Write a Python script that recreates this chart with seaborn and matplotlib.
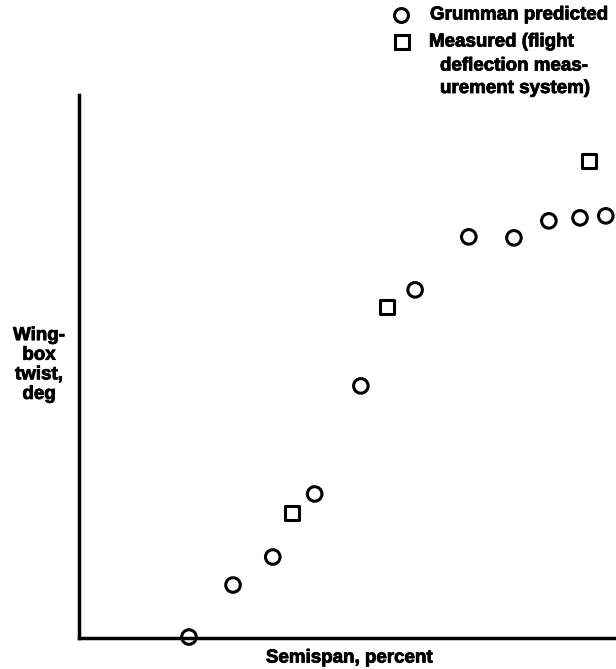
import numpy as np
import pandas as pd

import seaborn as sns
import matplotlib.pyplot as plt
import matplotlib.patheffects as pe
from matplotlib.lines import Line2D


# semispan, percent / wing-box twist, deg (no scale on the original)
predicted_span = [20.5, 28.7, 36.1, 43.9, 52.5, 62.6, 72.6, 81.0, 87.5, 93.3, 98.1]
predicted_twist = [0.01, 0.53, 0.81, 1.44, 2.52, 3.48, 4.01, 4.00, 4.17, 4.20, 4.22]

measured_span = [39.7, 57.4, 95.0]
measured_twist = [1.25, 3.31, 4.77]

legend_labels = ["Grumman predicted", "Measured (flight"]
legend_extra = ["deflection meas-", "urement system)"]


sns.set_style("white")
plt.rcParams["font.family"] = ["Liberation Sans", "DejaVu Sans"]
plt.rcParams["font.weight"] = "bold"
plt.rcParams["text.color"] = "black"

FS = 13.5
# scanned type is a bit heavier than Liberation Sans Bold
heavy = [pe.withStroke(linewidth=0.6, foreground="black")]

fig = plt.figure(
    figsize=(6.16, 6.69),
    dpi=100
)

ax = fig.add_axes([0.128, 0.0463, 0.872, 0.812])

pred = pd.DataFrame({"x": predicted_span, "y": predicted_twist})
meas = pd.DataFrame({"x": measured_span, "y": measured_twist})

sns.scatterplot(
    data=pred,
    x="x",
    y="y",
    marker="o",
    s=110,
    facecolors="none",
    edgecolor="black",
    linewidth=2.2,
    clip_on=False,
    zorder=5,
    ax=ax
)

sns.scatterplot(
    data=meas,
    x="x",
    y="y",
    marker="s",
    s=100,
    facecolors="none",
    edgecolor="black",
    linewidth=2.2,
    clip_on=False,
    zorder=5,
    ax=ax
)

ax.set_xlim(0, 100)
ax.set_ylim(0, 5.43)
ax.set_xticks([])
ax.set_yticks([])
ax.set_xlabel("")
ax.set_ylabel("")

for side in ["top", "right"]:
    ax.spines[side].set_visible(False)
for side in ["left", "bottom"]:
    ax.spines[side].set_color("black")
    ax.spines[side].set_linewidth(2.5)

fig.text(
    349 / 616, 1 - 658 / 669,
    "Semispan, percent",
    ha="center",
    va="center",
    fontsize=FS,
    fontweight="bold",
    color="black",
    path_effects=heavy
)

fig.text(
    39 / 616, 1 - 365 / 669,
    "Wing-\nbox\ntwist,\ndeg",
    ha="center",
    va="center",
    fontsize=FS,
    fontweight="bold",
    linespacing=1.2,
    color="black",
    path_effects=heavy
)

# legend drawn by hand so the square sits on the first line
fig.add_artist(Line2D([401 / 616], [1 - 15 / 669], marker="o", markersize=10,
                      markerfacecolor="none", markeredgecolor="black",
                      markeredgewidth=2.2, transform=fig.transFigure))
fig.add_artist(Line2D([402 / 616], [1 - 42 / 669], marker="s", markersize=9.5,
                      markerfacecolor="none", markeredgecolor="black",
                      markeredgewidth=2.2, transform=fig.transFigure))

fig.text(430 / 616, 1 - 15 / 669, legend_labels[0], ha="left", va="center",
         fontsize=FS, fontweight="bold", color="black", path_effects=heavy)
fig.text(429 / 616, 1 - 42 / 669, legend_labels[1], ha="left", va="center",
         fontsize=FS, fontweight="bold", color="black", path_effects=heavy)
for i, line in enumerate(legend_extra):
    fig.text(440 / 616, 1 - (66 + 22.5 * i) / 669, line, ha="left", va="center",
             fontsize=FS, fontweight="bold", color="black", path_effects=heavy)

plt.savefig(
    "out.png",
    dpi=100
)

plt.close()
